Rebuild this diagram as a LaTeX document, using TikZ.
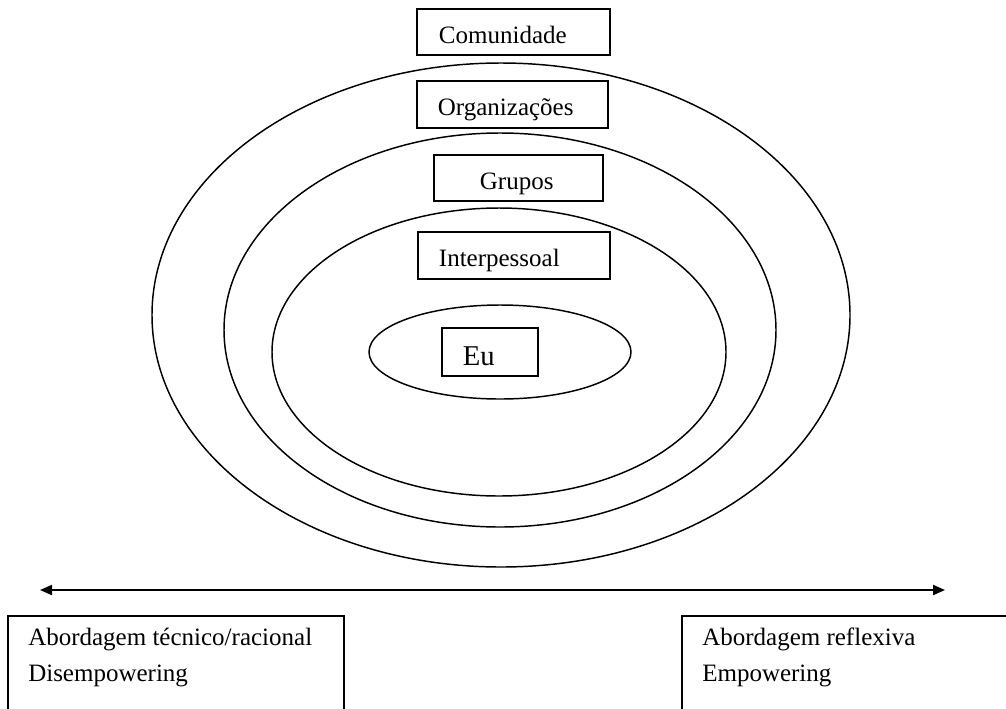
\documentclass[tikz,border=0pt]{standalone}
\usepackage{fontspec}
\setmainfont{Liberation Serif}
\usetikzlibrary{arrows.meta}
\begin{document}
\begin{tikzpicture}[x=0.75pt, y=-0.75pt,
  ring/.style={draw, line width=1.1pt},
  levelbox/.style={draw, line width=1.4pt, rectangle, align=left, inner ysep=0pt,
    text height=18pt, text depth=1.5pt,
    font=\fontsize{18.75pt}{22pt}\selectfont},
  label/.style={inner sep=0pt, font=\fontsize{18.75pt}{22pt}\selectfont},
  edge/.style={line width=1.9pt},
  axis/.style={line width=1.5pt, {Triangle[length=9pt,width=7.5pt]}-{Triangle[length=9pt,width=7.5pt]}}]
\useasboundingbox (0,0) rectangle (1006,708);
\clip (0,0) rectangle (1006,708);

% nested levels
\draw[ring] (501,315) ellipse [x radius=349*0.75pt, y radius=252*0.75pt];
\draw[ring] (500,330) ellipse [x radius=276*0.75pt, y radius=197*0.75pt];
\draw[ring] (499,352) ellipse [x radius=227*0.75pt, y radius=144*0.75pt];
\draw[ring] (500,352) ellipse [x radius=131*0.75pt, y radius=47*0.75pt];

% level labels
\node[levelbox, anchor=west, inner xsep=16.5pt, text width=111.75pt, minimum height=34.5pt] (com) at (416,32) {Comunidade};
\node[levelbox, anchor=west, inner xsep=15.75pt, text width=111.75pt, minimum height=35.25pt] (org) at (416,104.5) {Organizações};
\node[levelbox, anchor=west, inner xsep=34.5pt, text width=57.75pt, minimum height=34.5pt] (grp) at (433,178) {Grupos};
\node[levelbox, anchor=west, inner xsep=15.75pt, text width=112.5pt, minimum height=35.25pt] (int) at (417,255.5) {Interpessoal};
\node[levelbox, anchor=west, inner xsep=15.75pt, text width=40.5pt, minimum height=36pt,
  text height=21pt, font=\fontsize{21.5pt}{24pt}\selectfont] (eu) at (441,352) {Eu};

% axis between the two approaches
\coordinate (aL) at (40,590);
\coordinate (aR) at (945,590);
\draw[axis] (aL) -- (aR);

% approach boxes, open at the bottom
\coordinate (lb1) at (8,730);
\coordinate (lb2) at (8,616);
\coordinate (lb3) at (344,616);
\coordinate (lb4) at (344,730);
\draw[edge] (lb1) -- (lb2) -- (lb3) -- (lb4);
\coordinate (rb1) at (682,730);
\coordinate (rb2) at (682,616);
\coordinate (rb3) at (1030,616);
\draw[edge] (rb1) -- (rb2) -- (rb3);

\node[label, anchor=base west] (tec) at (28,645) {Abordagem técnico/racional};
\node[label, anchor=base west] (dis) at (28,681) {Disempowering};
\node[label, anchor=base west] (ref) at (702,645) {Abordagem reflexiva};
\node[label, anchor=base west] (emp) at (702,681) {Empowering};
\end{tikzpicture}
\end{document}
